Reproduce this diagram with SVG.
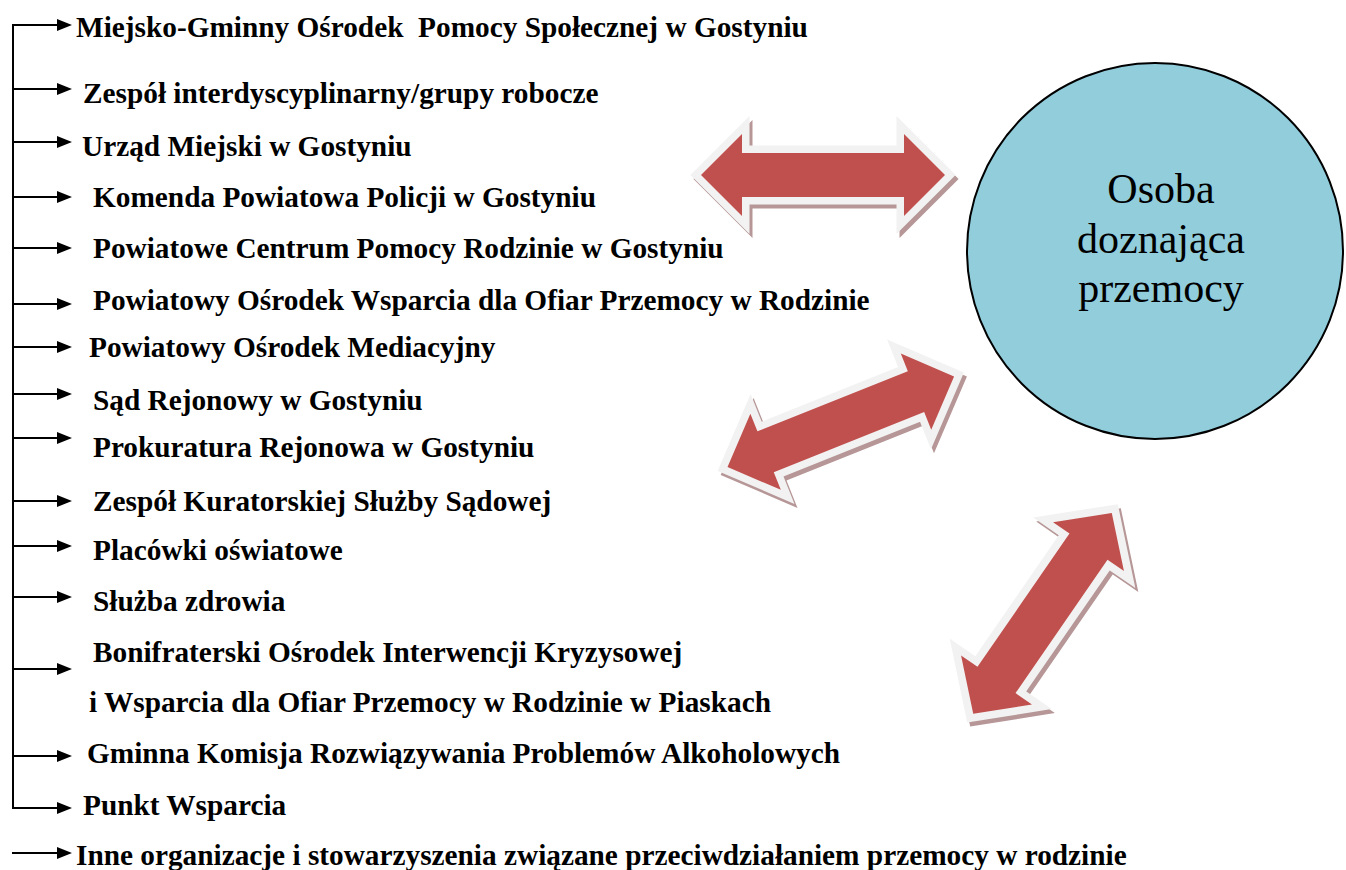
<svg xmlns="http://www.w3.org/2000/svg" xmlns:xlink="http://www.w3.org/1999/xlink" width="1346" height="870" viewBox="0 0 1346 870">
<style>
.lbl{font-family:"Liberation Serif","Times New Roman",serif;font-weight:bold;font-size:29.3px;fill:#000;white-space:pre}
.cir{font-family:"Liberation Serif","Times New Roman",serif;font-size:42px;fill:#000;text-anchor:middle}
.ln{stroke:#000;stroke-width:2;fill:none}
.red{fill:#C0504D;stroke:none}
.edge{fill:#F2F2F2;stroke:#F2F2F2;stroke-width:15;stroke-linejoin:miter;stroke-miterlimit:10}
.shd{fill:#B69696;stroke:#B69696;stroke-width:15;stroke-linejoin:miter;stroke-miterlimit:10}
</style>
<defs>
<marker id="ah" markerUnits="userSpaceOnUse" markerWidth="15" markerHeight="12" refX="0" refY="6" orient="auto">
<path d="M0 0 L15 6 L0 12 Z" fill="#000"/>
</marker>
<path id="dbl" d="M -122 0 L -81 -41 L -81 -22 L 81 -22 L 81 -41 L 122 0 L 81 41 L 81 22 L -81 22 L -81 41 Z"/>
</defs>
<rect width="1346" height="870" fill="#fff"/>

<g id="connectors">
<path class="ln" d="M13 24 V808"/>
<line class="ln" x1="13" y1="25" x2="57" y2="25" marker-end="url(#ah)"/>
<line class="ln" x1="13" y1="89" x2="57" y2="89" marker-end="url(#ah)"/>
<line class="ln" x1="13" y1="142" x2="57" y2="142" marker-end="url(#ah)"/>
<line class="ln" x1="13" y1="197" x2="57" y2="197" marker-end="url(#ah)"/>
<line class="ln" x1="13" y1="248" x2="57" y2="248" marker-end="url(#ah)"/>
<line class="ln" x1="13" y1="304" x2="57" y2="304" marker-end="url(#ah)"/>
<line class="ln" x1="12" y1="347" x2="57" y2="347" marker-end="url(#ah)"/>
<line class="ln" x1="13" y1="394" x2="57" y2="394" marker-end="url(#ah)"/>
<line class="ln" x1="12" y1="438" x2="57" y2="438" marker-end="url(#ah)"/>
<line class="ln" x1="12" y1="501" x2="57" y2="501" marker-end="url(#ah)"/>
<line class="ln" x1="12" y1="546" x2="57" y2="546" marker-end="url(#ah)"/>
<line class="ln" x1="12" y1="597" x2="57" y2="597" marker-end="url(#ah)"/>
<line class="ln" x1="12" y1="669" x2="57" y2="669" marker-end="url(#ah)"/>
<line class="ln" x1="13" y1="756" x2="57" y2="756" marker-end="url(#ah)"/>
<line class="ln" x1="12" y1="808" x2="57" y2="808" marker-end="url(#ah)"/>
<line class="ln" x1="12" y1="853" x2="57" y2="853" marker-end="url(#ah)"/>

<g id="arrow1">
<use xlink:href="#dbl" href="#dbl" class="shd" transform="translate(826,179)"/>
<use xlink:href="#dbl" href="#dbl" class="edge" transform="translate(823,175)"/>
<use xlink:href="#dbl" href="#dbl" class="red" transform="translate(823,175)"/>
</g>
<g id="arrow2">
<use xlink:href="#dbl" href="#dbl" class="shd" transform="translate(843.8,425.7) rotate(-21.8)"/>
<use xlink:href="#dbl" href="#dbl" class="edge" transform="translate(840.8,421.7) rotate(-21.8)"/>
<use xlink:href="#dbl" href="#dbl" class="red" transform="translate(840.8,421.7) rotate(-21.8)"/>
</g>
<g id="arrow3">
<use xlink:href="#dbl" href="#dbl" class="shd" transform="translate(1045.5,617.3) rotate(-55.4) scale(1,1.05)"/>
<use xlink:href="#dbl" href="#dbl" class="edge" transform="translate(1042.5,613.3) rotate(-55.4) scale(1,1.05)"/>
<use xlink:href="#dbl" href="#dbl" class="red" transform="translate(1042.5,613.3) rotate(-55.4) scale(1,1.05)"/>
</g>
</g>

<g id="n1"><text class="lbl" x="76" y="37">Miejsko-Gminny Ośrodek  Pomocy Społecznej w Gostyniu</text></g>
<g id="n2"><text class="lbl" x="83" y="103">Zespół interdyscyplinarny/grupy robocze</text></g>
<g id="n3"><text class="lbl" x="82" y="156">Urząd Miejski w Gostyniu</text></g>
<g id="n4"><text class="lbl" x="93" y="207">Komenda Powiatowa Policji w Gostyniu</text></g>
<g id="n5"><text class="lbl" x="93" y="258">Powiatowe Centrum Pomocy Rodzinie w Gostyniu</text></g>
<g id="n6"><text class="lbl" x="93" y="310">Powiatowy Ośrodek Wsparcia dla Ofiar Przemocy w Rodzinie</text></g>
<g id="n7"><text class="lbl" x="89" y="357">Powiatowy Ośrodek Mediacyjny</text></g>
<g id="n8"><text class="lbl" x="93" y="410">Sąd Rejonowy w Gostyniu</text></g>
<g id="n9"><text class="lbl" x="93" y="457">Prokuratura Rejonowa w Gostyniu</text></g>
<g id="n10"><text class="lbl" x="93" y="511">Zespół Kuratorskiej Służby Sądowej</text></g>
<g id="n11"><text class="lbl" x="93" y="560">Placówki oświatowe</text></g>
<g id="n12"><text class="lbl" x="93" y="611">Służba zdrowia</text></g>
<g id="n13">
<text class="lbl" x="93" y="662">Bonifraterski Ośrodek Interwencji Kryzysowej</text>
<text class="lbl" x="89" y="712">i Wsparcia dla Ofiar Przemocy w Rodzinie w Piaskach</text>
</g>
<g id="n14"><text class="lbl" x="87" y="763">Gminna Komisja Rozwiązywania Problemów Alkoholowych</text></g>
<g id="n15"><text class="lbl" x="83" y="815">Punkt Wsparcia</text></g>
<g id="n16"><text class="lbl" x="76" y="865">Inne organizacje i stowarzyszenia związane przeciwdziałaniem przemocy w rodzinie</text></g>

<g id="osoba">
<ellipse cx="1155" cy="251" rx="188" ry="188" fill="#92CDDC" stroke="#000" stroke-width="2"/>
<text class="cir" x="1161" y="203">Osoba</text>
<text class="cir" x="1161" y="253">doznająca</text>
<text class="cir" x="1161" y="302">przemocy</text>
</g>
</svg>
